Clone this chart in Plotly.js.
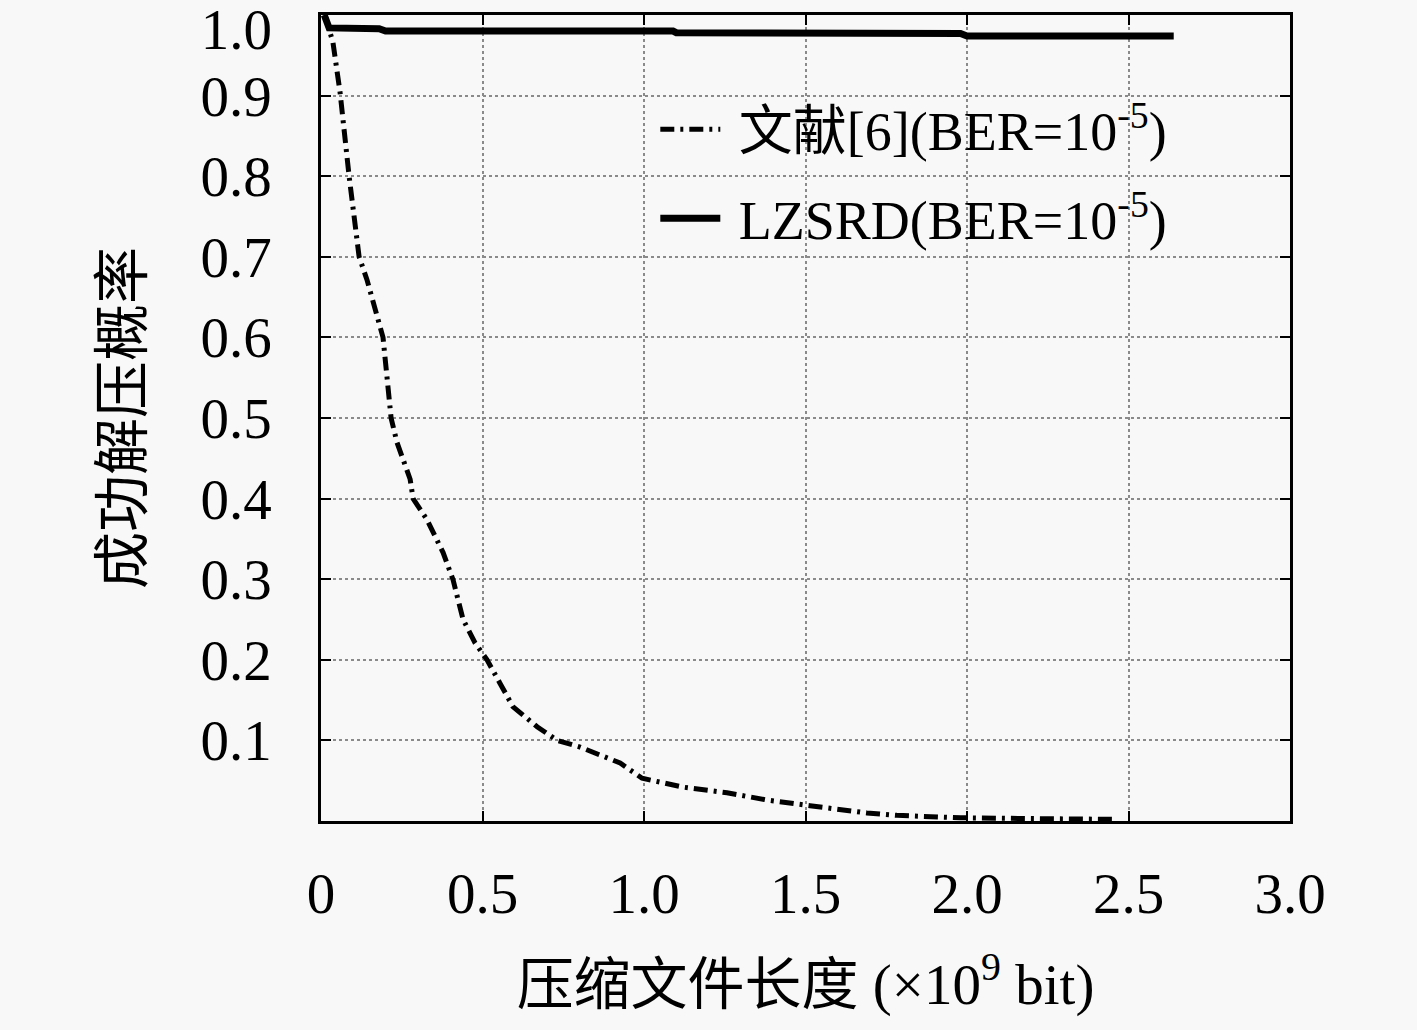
<!DOCTYPE html>
<html>
<head>
<meta charset="utf-8">
<script src="https://cdn.plot.ly/plotly-3.0.1.min.js"></script>
<style>
  body { margin: 0; background: #f8f8f8; }
  #plotly { width: 1417px; height: 1030px; }
</style>
</head>
<body>
<div id="plotly"></div>
<script>
// 文献[6] curve
var refX = [0.012, 0.037, 0.059, 0.087, 0.118, 0.142, 0.192, 0.217, 0.235, 0.276, 0.285,
            0.328, 0.378, 0.409, 0.424, 0.44, 0.477, 0.514, 0.554, 0.594, 0.669, 0.731,
            0.80, 0.864, 0.926, 0.994, 1.059, 1.121, 1.257, 1.381, 1.514, 1.585, 1.69,
            1.783, 1.98, 2.2, 2.464];
var refY = [1.0, 0.966, 0.904, 0.8, 0.7, 0.672, 0.6, 0.5, 0.47, 0.424, 0.4,
            0.374, 0.333, 0.299, 0.275, 0.25, 0.221, 0.2, 0.171, 0.142, 0.117, 0.1,
            0.092, 0.082, 0.072, 0.053, 0.047, 0.042, 0.035, 0.026, 0.019, 0.015, 0.01,
            0.007, 0.004, 0.003, 0.002];

// LZSRD curve
var lzX = [0.01, 0.025, 0.18, 0.2, 1.09, 1.1, 1.98, 2.0, 2.64];
var lzY = [1.0, 0.984, 0.983, 0.980, 0.980, 0.978, 0.977, 0.974, 0.974];

var xTicks = [0, 0.5, 1.0, 1.5, 2.0, 2.5, 3.0];
var xTickText = ['0', '0.5', '1.0', '1.5', '2.0', '2.5', '3.0'];
var yTicks = [0.1, 0.2, 0.3, 0.4, 0.5, 0.6, 0.7, 0.8, 0.9];
var yTickText = ['0.1', '0.2', '0.3', '0.4', '0.5', '0.6', '0.7', '0.8', '0.9'];
var yTopTick = [1.0];
var yTopText = ['1.0'];

var names = ['&nbsp;文献[6](BER=10<sup>-5</sup>)', '&nbsp;LZSRD(BER=10<sup>-5</sup>)'];

var fontFam = '"Liberation Serif", "Noto Sans CJK SC", serif';

function plotChart() {
  var traces = [
    { x: refX, y: refY, mode: 'lines', name: names[0], legendgroup: 'a',
      line: {color: 'black', width: 5, dash: '14px,6px,3px,6px'}, type: 'scatter' },
    { x: lzX, y: lzY, mode: 'lines', name: names[1], legendgroup: 'b',
      line: {color: 'black', width: 7}, type: 'scatter' },
    // empty trace so the overlaid axis for the top label gets drawn
    { x: [], y: [], yaxis: 'y2', mode: 'lines', showlegend: false,
      hoverinfo: 'skip', type: 'scatter' }
  ];

  var tickFont = {family: fontFam, size: 57, color: 'black'};
  var axisCommon = {
    showline: true, linecolor: 'black', linewidth: 2.5, mirror: 'ticks',
    ticks: 'inside', ticklen: 10, tickwidth: 2, tickcolor: 'black',
    showgrid: true, gridcolor: '#8a8a8a', gridwidth: 1.5, griddash: 'dot',
    zeroline: false, tickfont: tickFont
  };

  var layout = {
    width: 1417, height: 1030,
    margin: {l: 321, r: 127, t: 15, b: 209},
    paper_bgcolor: '#f8f8f8', plot_bgcolor: '#f8f8f8',
    font: {family: fontFam, color: 'black'},
    showlegend: true,
    legend: {
      x: 0.345, y: 0.91, xanchor: 'left', yanchor: 'top',
      bgcolor: 'rgba(0,0,0,0)', borderwidth: 0,
      font: {family: fontFam, size: 54, color: 'black'},
      traceorder: 'grouped', tracegroupgap: 16, itemwidth: 60
    },
    xaxis: Object.assign({}, axisCommon, {
      range: [0, 3.0], tickmode: 'array', tickvals: xTicks, ticktext: xTickText,
      ticklabelstandoff: 21,
      title: {text: '压缩文件长度 (×10<sup>9</sup> bit)', standoff: 40,
              font: {family: fontFam, size: 57, color: 'black'}}
    }),
    yaxis: Object.assign({}, axisCommon, {
      range: [0, 1.0], tickmode: 'array', tickvals: yTicks, ticktext: yTickText,
      ticklabelstandoff: 35,
      title: {text: '成功解压概率', standoff: 40,
              font: {family: fontFam, size: 57, color: 'black'}}
    }),
    // top label "1.0" drawn on an overlaid axis so it can sit a little lower
    yaxis2: {
      overlaying: 'y', side: 'left', range: [0, 1.0], showgrid: false, zeroline: false,
      showline: false, ticks: '', tickmode: 'array', tickvals: yTopTick, ticktext: yTopText,
      tickfont: tickFont, ticklabelstandoff: 48, ticklabelshift: 14,
      ticklabeloverflow: 'allow'
    }
  };

  Plotly.newPlot('plotly', traces, layout, {displayModeBar: false});
}
plotChart();
</script>
</body>
</html>
